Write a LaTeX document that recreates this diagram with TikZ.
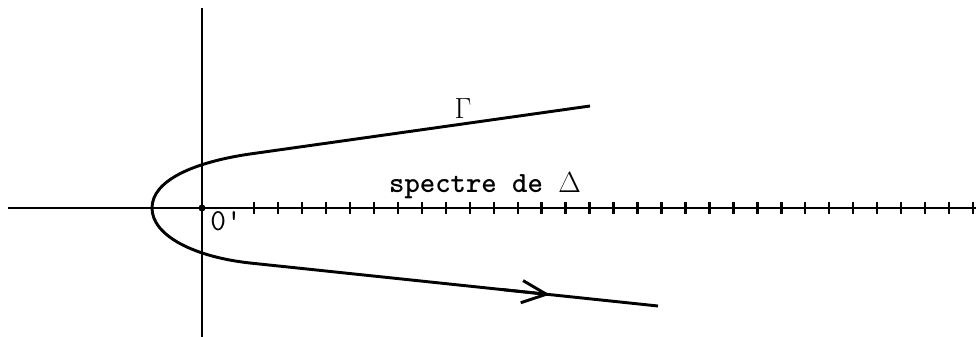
\documentclass[tikz,border=0pt]{standalone}
\usepackage{fontspec}
\usetikzlibrary{arrows.meta,calc}
\begin{document}
\begin{tikzpicture}[x=0.03cm, y=-0.03cm, line width=2.5pt]
    % Define tick spacing
    \def\tickstep{23.97}
    \useasboundingbox (0,0) rectangle (976,337);

    % Axes
    \coordinate (xl) at (8,208);
    \coordinate (xr) at (976,208);
    \coordinate (yt) at (202,8);
    \coordinate (yb) at (202,337);
    \draw (xl) -- (xr);
    \draw (yt) -- (yb);
    \fill (202,208) circle (3pt);

    % Ticks of the spectrum
    \foreach \i in {0,...,30}
        \draw[line width=2pt] (254+\i*\tickstep,202) -- (254+\i*\tickstep,214);

    % Contour Gamma
    \coordinate (lowa) at (250,263);
    \coordinate (lowb) at (658,306);
    \draw (590,106) -- (250,154) .. controls (195,162) and (152,180) .. (152,208)
          .. controls (152,236) and (195,257) .. (lowa) -- (lowb);
    \draw[-{Straight Barb[length=21pt,width=19pt,line width=2.5pt]}]
        ($(lowa)!0.62!(lowb)$) -- ($(lowa)!0.735!(lowb)$);

    % Labels
    \node[font=\fontsize{28}{28}\selectfont, anchor=base, inner sep=0pt] (gamma) at (463,118) {$\Gamma$};
    \node[font=\ttfamily\bfseries\fontsize{25}{25}\selectfont, anchor=base, inner sep=0pt] (spec) at (485,192) {spectre de $\Delta$};
    \node[font=\ttfamily\fontsize{26}{26}\selectfont, anchor=base west, inner sep=0pt] (orig) at (209,230) {0'};
\end{tikzpicture}
\end{document}
